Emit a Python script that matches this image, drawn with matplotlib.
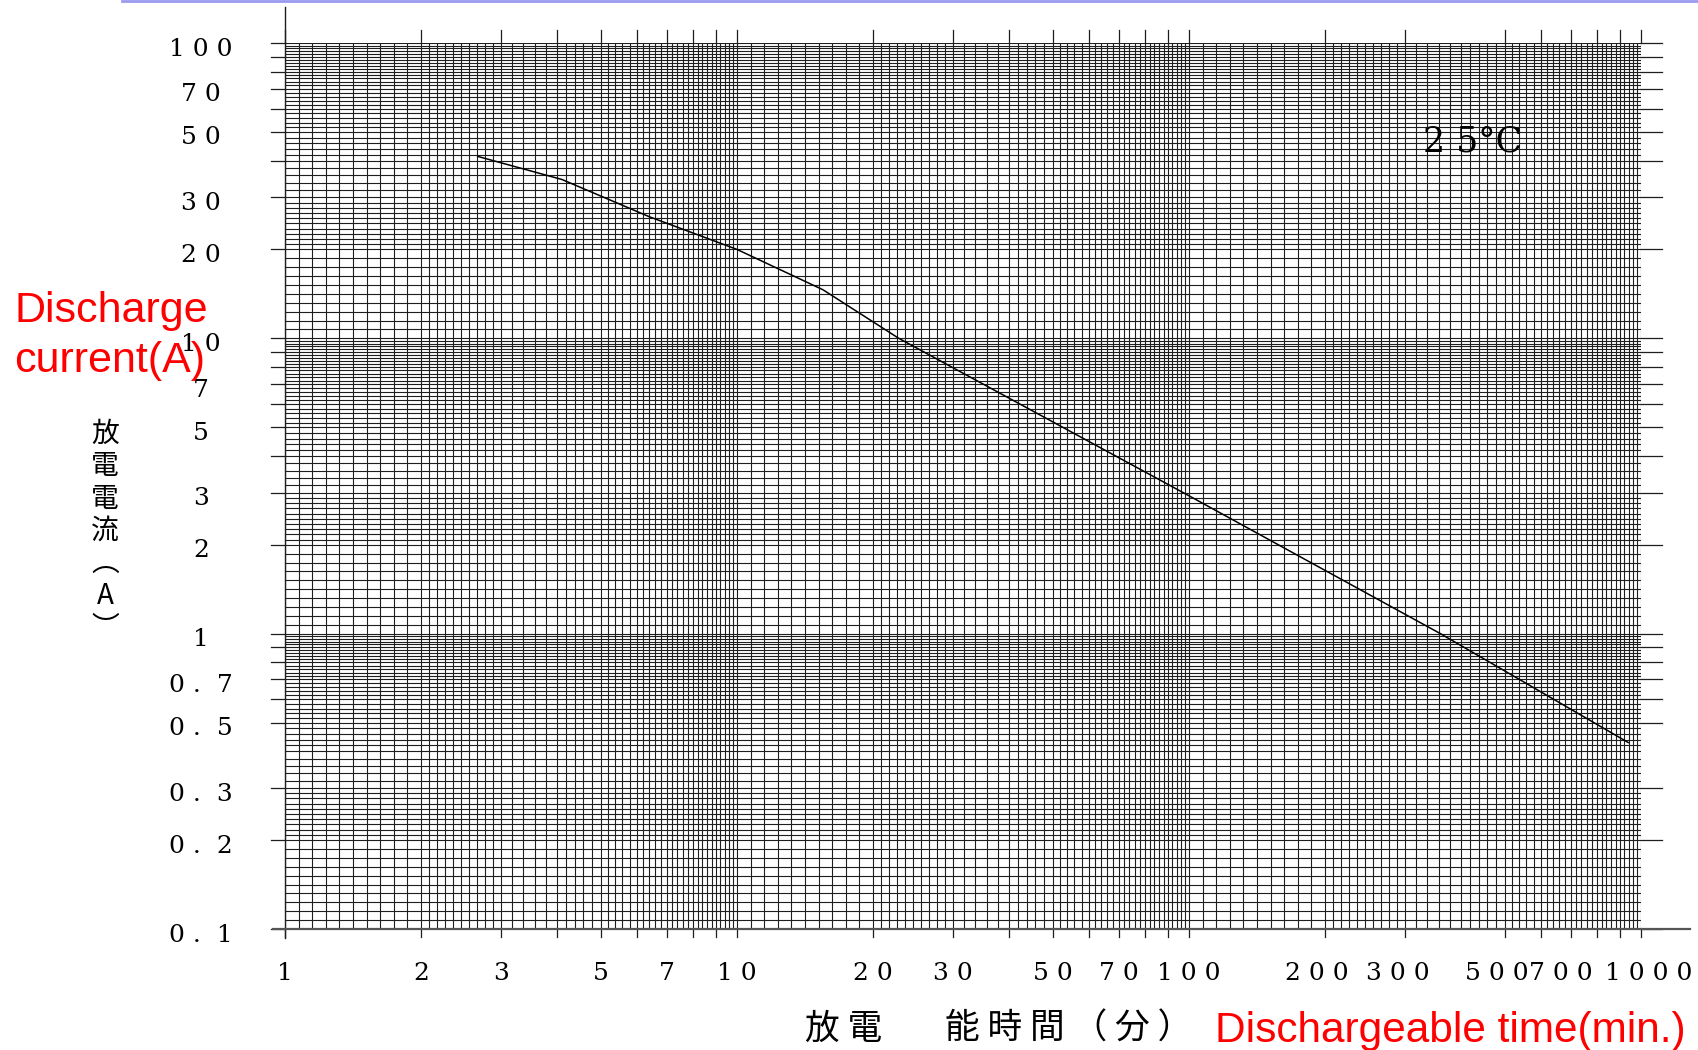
import matplotlib.pyplot as plt
import numpy as np
from matplotlib.lines import Line2D
from matplotlib.transforms import blended_transform_factory, offset_copy

# ======= DATA =======
times = [2.67, 4.1, 6.4, 10, 15.5, 22.8, 100, 360, 937]        # min
currents = [41.3, 34.5, 25.8, 20, 14.6, 10, 2.93, 1.0, 0.428]   # A

x_ticks = [1, 2, 3, 5, 7, 10, 20, 30, 50, 70, 100, 200, 300, 500, 700, 1000]
x_labels = ["1", "2", "3", "5", "7", "1 0", "2 0", "3 0", "5 0", "7 0",
            "1 0 0", "2 0 0", "3 0 0", "5 0 0", "7 0 0", "1 0 0 0"]
y_ticks = [0.1, 0.2, 0.3, 0.5, 0.7, 1, 2, 3, 5, 7, 10, 20, 30, 50, 70, 100]
y_labels = ["0 .  1", "0 .  2", "0 .  3", "0 .  5", "0 .  7", "1", "2", "3", "5", "7",
            "1 0", "2 0", "3 0", "5 0", "7 0", "1 0 0"]

temp_label = "2 5°C"
ylabel_jp = "放\n電\n電\n流\n︵\nA\n︶"
xlabel_jp_1 = "放 電"
xlabel_jp_2 = "能 時 間 （ 分 ）"
ylabel_en = ["Discharge", "current(A)"]
xlabel_en = "Dischargeable time(min.)"

W, H = 1698, 1050
AX_L, AX_R, AX_T, AX_B = 285, 1641, 43, 929   # axes box in pixels
AX_W, AX_H = AX_R - AX_L, AX_B - AX_T
GRID = "#1e1e1e"


def paper_lines(decades):
    # printed log paper: 10 steps for 1-3, 5 steps for 3-10, evenly spaced
    vals = []
    for d in decades:
        for n in range(1, 10):
            m = 10 if n < 3 else 5
            lo, hi = np.log10(n * d), np.log10((n + 1) * d)
            vals += [10 ** (lo + k * (hi - lo) / m) for k in range(m)]
    vals.append(10 * decades[-1])
    return vals


x_major = [n * d for d in (1, 10, 100) for n in range(1, 10) if n * d != 400] + [1000]
y_major = [n * d for d in (0.1, 1, 10) for n in range(1, 10) if n != 4 or d != 0.1] + [100]

fig = plt.figure(figsize=(W / 100, H / 100), dpi=100)
ax = fig.add_axes([AX_L / W, 1 - AX_B / H, AX_W / W, AX_H / H])
ax.set_xscale("log")
ax.set_yscale("log")
ax.set_xlim(1, 1000)
ax.set_ylim(0.1, 100)
ax.axis("off")

# ======= GRID PAPER =======
ax.vlines(paper_lines([1, 10, 100]), 0.1, 100, color=GRID, lw=0.8)
ax.hlines(paper_lines([0.1, 1, 10]), 1, 1000, color=GRID, lw=0.8)

bx = blended_transform_factory(ax.transData, ax.transAxes)
by = blended_transform_factory(ax.transAxes, ax.transData)
for x in x_major:
    ax.plot([x, x], [-8 / AX_H, 0], color=GRID, lw=0.9, transform=bx, clip_on=False)
    ax.plot([x, x], [1, 1 + 13 / AX_H], color=GRID, lw=0.9, transform=bx, clip_on=False)
for y in y_major:
    ax.plot([-14 / AX_W, 0], [y, y], color=GRID, lw=0.9, transform=by, clip_on=False)
    ax.plot([1, 1 + 21 / AX_W], [y, y], color=GRID, lw=0.9, transform=by, clip_on=False)

# frame lines that run past the paper
ax.plot([0, 0], [-9 / AX_H, (AX_B - 7) / AX_H], color=GRID, lw=1.0,
        transform=ax.transAxes, clip_on=False)
ax.plot([-12 / AX_W, (1690 - AX_L) / AX_W], [0, 0], color="#555555", lw=1.6,
        transform=ax.transAxes, clip_on=False)

# ======= CURVE =======
ax.plot(times, currents, color="black", lw=1.1)

# ======= TICK LABELS =======
num_font = dict(family="DejaVu Serif", fontsize=18, color="black")
ylab_tr = offset_copy(by, y=-12.5, units="dots")
for y, lab in zip(y_ticks, y_labels):
    ax.text(-84 / AX_W, y, lab, ha="center", va="baseline", transform=ylab_tr, **num_font)

# the crowded labels at the right end sit a little off their ticks
nudge = {200: -8, 300: -7, 500: -8, 700: -10, 1000: 8}
for x, lab in zip(x_ticks, x_labels):
    tr = offset_copy(bx, x=nudge.get(x, 0), y=-51, units="dots")
    ax.text(x, 0, lab, ha="center", va="baseline", transform=tr, **num_font)

ax.text(425, 46.5, temp_label, ha="center", va="center", family="DejaVu Serif", fontsize=25)

# ======= AXIS TITLES =======
cjk = ["Noto Sans CJK JP", "DejaVu Sans"]
fig.text(105 / W, 1 - 419 / H, ylabel_jp, ha="center", va="top", family=cjk,
         fontsize=20, linespacing=1.1)
fig.text(805 / W, 1 - 1029 / H, xlabel_jp_1, ha="left", va="center", family=cjk, fontsize=25)
fig.text(945 / W, 1 - 1029 / H, xlabel_jp_2, ha="left", va="center", family=cjk, fontsize=25)

fig.text(14 / W, 1 - 322 / H, ylabel_en[0], ha="left", va="baseline", color="red",
         family="Liberation Sans", fontsize=31)
fig.text(14 / W, 1 - 372 / H, ylabel_en[1], ha="left", va="baseline", color="red",
         family="Liberation Sans", fontsize=31)
fig.text(1215 / W, 1 - 1042 / H, xlabel_en, ha="left", va="baseline", color="red",
         family="Liberation Sans", fontsize=30.5)

# slide border at the top
fig.add_artist(Line2D([122 / W, 1], [1 - 1 / H, 1 - 1 / H], color="#9999ee", lw=2,
                      transform=fig.transFigure))

fig.savefig("out.png", dpi=100)
